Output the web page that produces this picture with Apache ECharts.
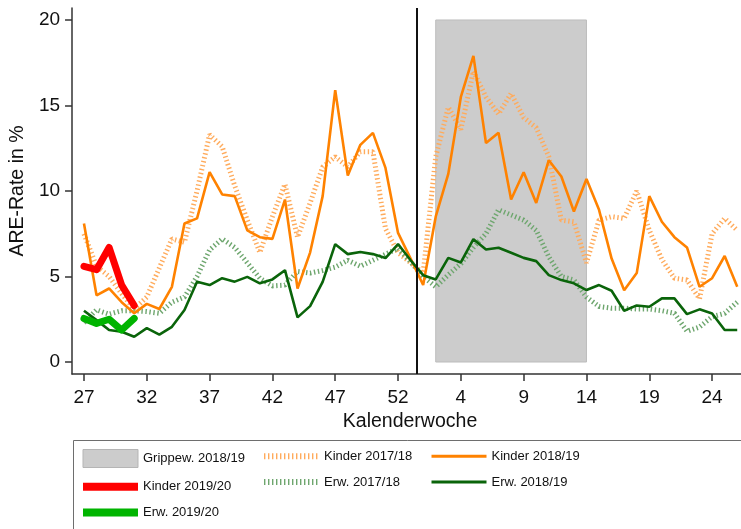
<!DOCTYPE html>
<html>
<head>
<meta charset="utf-8">
<script src="https://cdn.jsdelivr.net/npm/echarts@6/dist/echarts.min.js"></script>
<style>html,body{margin:0;padding:0;background:#fff}#c{width:741px;height:529px}</style>
</head>
<body>
<div id="c"></div>
<script>
// Calendar weeks (x categories), season runs from week 27 to week 26
const weeks = [27,28,29,30,31,32,33,34,35,36,37,38,39,40,41,42,43,44,45,46,47,48,49,50,51,52,53,
               1,2,3,4,5,6,7,8,9,10,11,12,13,14,15,16,17,18,19,20,21,22,23,24,25,26];
const xTickWeeks = [27,32,37,42,47,52,4,9,14,19,24];
const yTicks = [0,5,10,15,20];
const fluWaveStart = 2, fluWaveEnd = 14;   // Grippewelle 2018/19 (weeks)
const yearBreakAfter = 53;                 // year boundary after week 53

const kinder1718 = [7.5,5.6,5.0,4.0,3.1,3.8,5.5,7.2,7.0,10.0,13.3,12.6,10.3,8.3,6.4,8.5,10.4,7.3,9.3,11.4,12.0,11.4,12.3,12.3,7.8,6.4,5.8,
                    5.2,12.0,14.9,13.6,17.0,15.5,14.5,15.7,14.3,13.7,12.0,8.3,8.2,5.8,8.3,8.5,8.4,10.0,7.7,6.0,4.9,4.8,3.7,7.5,8.4,7.7];
const erw1718    = [2.3,3.05,2.8,3.0,3.0,2.95,2.85,3.5,3.8,5.0,6.55,7.2,6.7,5.8,4.9,4.45,4.5,5.3,5.2,5.35,5.55,5.95,5.6,5.95,6.3,6.65,5.85,
                    5.0,4.4,5.1,5.75,6.7,7.5,8.9,8.6,8.3,7.7,6.15,5.0,4.8,3.8,3.25,3.15,3.15,3.1,3.1,3.0,2.85,1.8,2.05,2.65,2.85,3.5];
const kinder1819 = [8.1,3.9,4.3,3.5,2.85,3.4,3.1,4.4,8.1,8.4,11.1,9.8,9.7,7.7,7.3,7.2,9.5,4.3,6.4,9.7,15.9,10.9,12.7,13.4,11.35,7.55,6.05,
                    4.5,8.5,11.0,15.5,17.9,12.8,13.4,9.5,11.1,9.3,11.8,10.85,8.8,10.7,8.9,6.05,4.2,5.2,9.7,8.2,7.3,6.7,4.4,4.9,6.2,4.4];
const erw1819    = [3.0,2.45,1.87,1.77,1.48,1.98,1.6,2.06,3.04,4.69,4.5,4.9,4.7,4.98,4.6,4.83,5.37,2.61,3.27,4.69,6.89,6.31,6.43,6.31,6.08,6.9,5.95,
                    5.08,4.83,6.09,5.82,7.18,6.58,6.68,6.39,6.09,5.9,5.08,4.79,4.6,4.21,4.5,4.17,3.0,3.31,3.23,3.72,3.72,2.8,3.08,2.84,1.87,1.87];
const kinder1920 = [5.6,5.4,6.7,4.5,3.3];
const erw1920    = [2.55,2.26,2.5,1.87,2.55];

const pos = w => weeks.indexOf(w);
const toPairs = arr => arr.map((v, i) => [i, v]);

const FONT = "'Liberation Sans', Arial, sans-serif";
const dotted = [1.4, 2.6];
const C = {
  k1718: '#ffab5c', e1718: '#6ea66e', k1819: '#ff8200', e1819: '#0a640a',
  k1920: '#ff0000', e1920: '#00b400', flu: '#cccccc'
};

const chart = echarts.init(document.getElementById('c'), null, {renderer: 'canvas'});
const legendCommon = {
  orient: 'vertical', top: 449, itemWidth: 55, itemHeight: 18, itemGap: 11.5, padding: 0,
  selectedMode: false,
  itemStyle: {opacity: 0},
  textStyle: {fontFamily: FONT, fontSize: 13, color: '#111', padding: 0}
};
const lg = (name, color, width, type) => ({name, lineStyle: {color, width, type: type || 'solid', cap: 'butt'}});
chart.setOption({
  animation: false,
  grid: {left: 70, right: 0, top: 8, bottom: 155},
  legend: [
    Object.assign({}, legendCommon, {left: 79, data: [
      {name: 'Grippew. 2018/19', icon: 'rect', itemStyle: {opacity: 1, color: C.flu, borderColor: '#b5b5b5', borderWidth: 1}},
      lg('Kinder 2019/20', C.k1920, 8), lg('Erw. 2019/20', C.e1920, 8)]}),
    Object.assign({}, legendCommon, {left: 261, data: [
      lg('Kinder 2017/18', C.k1718, 6, dotted), lg('Erw. 2017/18', C.e1718, 6, dotted)]}),
    Object.assign({}, legendCommon, {left: 430, data: [
      lg('Kinder 2018/19', C.k1819, 3), lg('Erw. 2018/19', C.e1819, 3)]})
  ],
  graphic: [{
    type: 'rect', left: 73, top: 440, z: -1,
    shape: {width: 700, height: 120},
    style: {fill: '#fff', stroke: '#6e6e6e', lineWidth: 1}
  }],
  xAxis: {
    type: 'value', min: -0.95, max: 52.3,
    name: 'Kalenderwoche', nameLocation: 'middle', nameGap: 30,
    nameTextStyle: {fontFamily: FONT, fontSize: 19.5, color: '#111', padding: [0,0,0,7]},
    axisLine: {show: true, onZero: false, lineStyle: {color: '#333', width: 1.5}},
    axisTick: {show: true, length: 7, customValues: xTickWeeks.map(pos), lineStyle: {color: '#333', width: 1.5}},
    axisLabel: {customValues: xTickWeeks.map(pos), formatter: v => String(weeks[Math.round(v)]),
                fontFamily: FONT, fontSize: 19, color: '#111', margin: 14},
    splitLine: {show: false}
  },
  yAxis: {
    type: 'value', min: -0.7, max: 20.7,
    name: 'ARE-Rate in %', nameLocation: 'middle', nameRotate: 90, nameGap: 41,
    nameTextStyle: {fontFamily: FONT, fontSize: 19.5, color: '#111'},
    axisLine: {show: true, onZero: false, lineStyle: {color: '#333', width: 1.5}},
    axisTick: {show: true, length: 7, customValues: yTicks, lineStyle: {color: '#333', width: 1.5}},
    axisLabel: {customValues: yTicks, fontFamily: FONT, fontSize: 19, color: '#111', margin: 12},
    splitLine: {show: false}
  },
  series: [
    {
      name: 'Grippew. 2018/19', type: 'bar', data: [],
      itemStyle: {color: C.flu, borderColor: '#b5b5b5', borderWidth: 1},
      markArea: {
        silent: true,
        itemStyle: {color: C.flu, borderColor: '#bdbdbd', borderWidth: 1},
        data: [[{xAxis: pos(fluWaveStart), yAxis: 0}, {xAxis: pos(fluWaveEnd), yAxis: 20}]]
      }
    },
    {
      name: 'Kinder 2017/18', type: 'line', symbol: 'none', data: toPairs(kinder1718), z: 3,
      lineStyle: {color: C.k1718, width: 5, type: dotted, cap: 'butt'}, itemStyle: {color: C.k1718}
    },
    {
      name: 'Erw. 2017/18', type: 'line', symbol: 'none', data: toPairs(erw1718), z: 3,
      lineStyle: {color: C.e1718, width: 5, type: dotted, cap: 'butt'}, itemStyle: {color: C.e1718}
    },
    {
      name: 'Kinder 2018/19', type: 'line', symbol: 'none', data: toPairs(kinder1819), z: 4,
      lineStyle: {color: C.k1819, width: 2.6}, itemStyle: {color: C.k1819}
    },
    {
      name: 'Erw. 2018/19', type: 'line', symbol: 'none', data: toPairs(erw1819), z: 4,
      lineStyle: {color: C.e1819, width: 2.6}, itemStyle: {color: C.e1819},
      markLine: {
        silent: true, symbol: 'none', label: {show: false},
        lineStyle: {color: '#111', width: 2, type: 'solid'},
        data: [{xAxis: pos(yearBreakAfter) + 0.5}]
      }
    },
    {
      name: 'Kinder 2019/20', type: 'line', symbol: 'none', data: toPairs(kinder1920), z: 5,
      lineStyle: {color: C.k1920, width: 7, join: 'round', cap: 'round'}, itemStyle: {color: C.k1920}
    },
    {
      name: 'Erw. 2019/20', type: 'line', symbol: 'none', data: toPairs(erw1920), z: 5,
      lineStyle: {color: C.e1920, width: 7, join: 'round', cap: 'round'}, itemStyle: {color: C.e1920}
    }
  ]
});
</script>
</body>
</html>
